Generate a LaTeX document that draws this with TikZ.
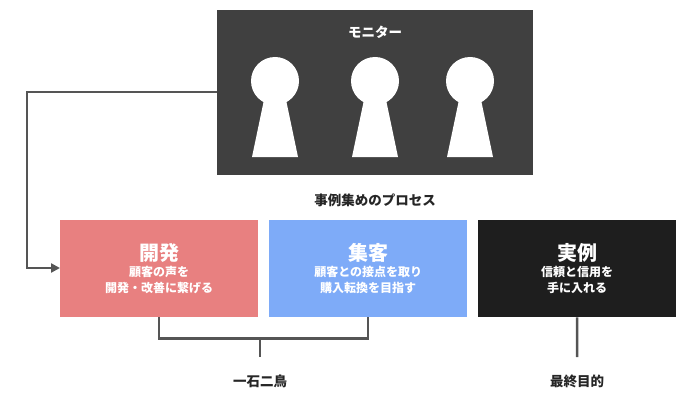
\documentclass[tikz,border=0pt]{standalone}
\usepackage{fontspec}
\newfontfamily\cjk{Noto Sans CJK JP}
\usetikzlibrary{arrows.meta}
\definecolor{darkbg}{HTML}{404040}
\definecolor{pinkbox}{HTML}{E88080}
\definecolor{bluebox}{HTML}{7EABF8}
\definecolor{blackbox}{HTML}{1E1E1E}
\definecolor{lineg}{HTML}{555555}
\begin{document}
\begin{tikzpicture}[x=1pt,y=-1pt,
  box/.style={draw=none,minimum width=198pt,minimum height=97pt,anchor=north west,
    text=white,align=center,font=\cjk\bfseries\fontsize{12}{16}\selectfont},
  captext/.style={font=\cjk\bfseries\fontsize{13.5}{16}\selectfont,text=black!85}]
\useasboundingbox (0,0) rectangle (700,414);

\node[fill=darkbg,minimum width=316pt,minimum height=165pt,anchor=north west] (mon) at (217,10) {};
\node[font=\cjk\bfseries\fontsize{13.5}{16}\selectfont,text=white] (montitle) at (375,32) {モニター};
\foreach \k in {275,375,470}{
  \fill[white] (\k,81) circle (24);
  \fill[white] (\k-10,95) -- (\k+10,95) -- (\k+23,157) -- (\k-23,157) -- cycle;
}

\node[captext] (proc) at (375,200) {事例集めのプロセス};

\node[box,fill=pinkbox] (dev) at (60,220) {{\fontsize{20}{26}\selectfont 開発}\\顧客の声を\\開発・改善に繋げる};
\node[box,fill=bluebox] (cust) at (269,220) {{\fontsize{20}{26}\selectfont 集客}\\顧客との接点を取り\\購入転換を目指す};
\node[box,fill=blackbox] (case) at (478,220) {{\fontsize{20}{26}\selectfont 実例}\\信頼と信用を\\手に入れる};

\node[captext] (birds) at (260,381) {一石二鳥};
\node[captext] (goal) at (577,381) {最終目的};

\coordinate (turnA) at (27,92);
\coordinate (turnB) at (27,268);
\draw[lineg,line width=2.5pt,-{Triangle[length=9pt,width=9pt]}]
  (mon.west |- turnA) -- (turnA) -- (turnB) -- (dev.west |- turnB);

\coordinate (brL) at (dev.south);
\coordinate (brR) at (cust.south);
\draw[lineg,line width=2.5pt] (brL) -- ++(0,21) -| (brR);
\draw[lineg,line width=2.5pt] (260,338) -- (260,357);
\draw[lineg,line width=2.5pt] (case.south) -- (577,357);
\end{tikzpicture}
\end{document}
